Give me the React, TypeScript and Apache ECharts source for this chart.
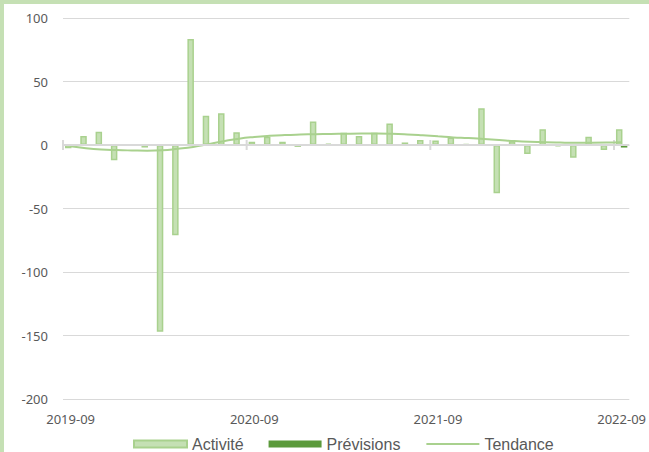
import React, { useEffect, useRef } from "react";
import * as echarts from "echarts";

const months = [
  "2019-09", "2019-10", "2019-11", "2019-12", "2020-01", "2020-02", "2020-03", "2020-04",
  "2020-05", "2020-06", "2020-07", "2020-08", "2020-09", "2020-10", "2020-11", "2020-12",
  "2021-01", "2021-02", "2021-03", "2021-04", "2021-05", "2021-06", "2021-07", "2021-08",
  "2021-09", "2021-10", "2021-11", "2021-12", "2022-01", "2022-02", "2022-03", "2022-04",
  "2022-05", "2022-06", "2022-07", "2022-08", "2022-09",
];

const activite = [
  -2.5, 7, 10.5, -12, -0.5, -2, -147, -71,
  83.5, 23, 25, 10, 2.5, 6.5, 2.5, -1.5,
  18.5, 1, 9.7, 7, 9.7, 17, 2, 4,
  3.5, 6, 0.8, 29, -38, 3, -7, 12.5,
  -1, -10, 6.5, -4, 12.5,
];

const previsions = [
  null, null, null, null, null, null, null, null,
  null, null, null, null, null, null, null, null,
  null, null, null, null, null, null, null, null,
  null, null, null, null, null, null, null, null,
  null, null, null, null, -2,
];

const tendance = [
  -1, -2.5, -3.5, -4, -4.3, -4.5, -4.2, -3,
  -1.5, 0.7, 3, 5, 6.3, 7.2, 7.8, 8.2,
  8.5, 8.7, 8.9, 9, 9, 8.8, 8.3, 7.6,
  6.8, 6, 5.5, 4.7, 3.9, 3.1, 2.5, 2.1,
  1.9, 1.8, 1.8, 1.9, 2.2,
];

// category indices where the zero-line ticks sit (start of each September)
const tickIndices = [0, 12, 24, 36];

const LABEL = "#595959";
const GRID = "#d9d9d9";

export default function App() {
  const ref = useRef<HTMLDivElement>(null);
  useEffect(() => {
    const chart = echarts.init(ref.current!, null, { renderer: "svg" });
    chart.setOption({
      animation: false,
      backgroundColor: "#ffffff",
      graphic: [
        { type: "rect", shape: { x: 0, y: 0, width: 649, height: 4 }, style: { fill: "#c5e0b4" }, z: 100 },
        { type: "rect", shape: { x: 0, y: 0, width: 4, height: 452 }, style: { fill: "#c5e0b4" }, z: 100 },
      ],
      grid: { left: 63, right: 16, top: 18, bottom: 53, containLabel: false },
      xAxis: {
        type: "category",
        data: months,
        position: "bottom",
        axisLine: { show: false, onZero: false },
        axisTick: { show: false },
        axisLabel: { interval: 11, color: LABEL, fontFamily: "Noto Sans", fontSize: 13, margin: 13 },
        splitLine: { show: false },
      },
      yAxis: {
        type: "value",
        min: -200,
        max: 100,
        interval: 50,
        axisLine: { show: false },
        axisTick: { show: false },
        axisLabel: { color: LABEL, fontFamily: "Noto Sans", fontSize: 13, margin: 15 },
        splitLine: { lineStyle: { color: GRID, width: 1 } },
      },
      legend: {
        left: 133,
        top: 436,
        padding: 0,
        itemWidth: 53,
        itemHeight: 7,
        itemGap: 25,
        textStyle: { color: LABEL, fontFamily: "Liberation Sans", fontSize: 16 },
        data: [
          { name: "Activité", icon: "rect" },
          { name: "Prévisions", icon: "rect" },
          {
            name: "Tendance",
            itemStyle: { color: "rgba(0,0,0,0)", borderColor: "rgba(0,0,0,0)", borderWidth: 0, opacity: 0 },
          },
        ],
      },
      series: [
        {
          name: "Activité",
          type: "bar",
          data: activite,
          barWidth: 6.5,
          barGap: "-25%",
          itemStyle: { color: "#c5e0b4", borderColor: "#a9d18e", borderWidth: 1.5 },
          z: 2,
        },
        {
          name: "Prévisions",
          type: "bar",
          data: previsions,
          barWidth: 6.5,
          itemStyle: { color: "#5b9a3b" },
          z: 3,
        },
        {
          name: "zeroAxis",
          type: "custom",
          data: tickIndices.map((i) => [i, 0]),
          encode: { x: 0, y: 1 },
          silent: true,
          z: 3,
          renderItem: (params: any, api: any) => {
            const p = api.coord([api.value(0), 0]);
            const bw = api.size([1, 0])[0];
            const x = p[0] - bw / 2;
            return {
              type: "line",
              shape: { x1: x, y1: p[1] - 5, x2: x, y2: p[1] + 5 },
              style: { stroke: GRID, lineWidth: 2 },
            };
          },
          markLine: {
            silent: true,
            symbol: "none",
            label: { show: false },
            lineStyle: { color: GRID, width: 2, type: "solid" },
            data: [{ yAxis: 0 }],
          },
        },
        {
          name: "Tendance",
          type: "line",
          data: tendance,
          smooth: true,
          symbol: "none",
          lineStyle: { color: "#a9d18e", width: 2 },
          itemStyle: { color: "#a9d18e" },
          z: 4,
        },
      ],
    });
    return () => chart.dispose();
  }, []);
  return (
    <div
      ref={ref}
      style={{ position: "fixed", left: 0, top: 0, width: 649, height: 452, background: "#fff" }}
    />
  );
}
